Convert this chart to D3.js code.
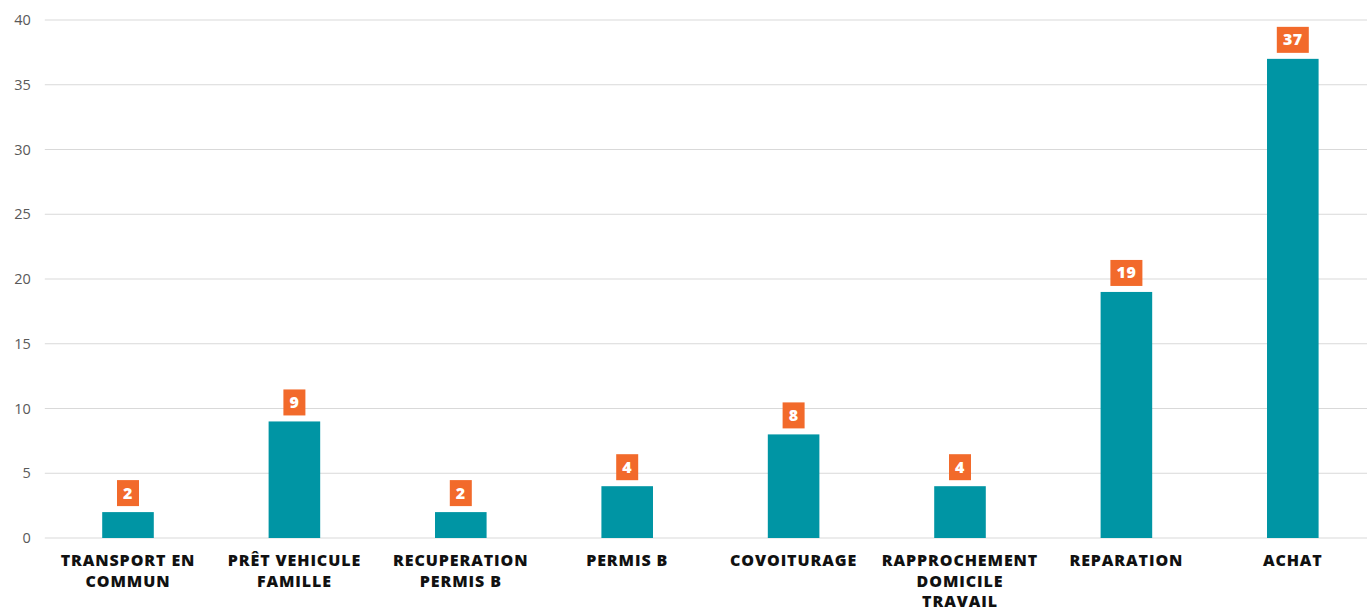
<!DOCTYPE html>
<html><head><meta charset="utf-8">
<script src="https://cdn.jsdelivr.net/npm/d3@7"></script>
<style>body{margin:0;background:#fff;overflow:hidden}</style>
</head><body>
<svg id="c" width="1367" height="608"></svg>
<script>
const categories = [["TRANSPORT EN","COMMUN"],["PRÊT VEHICULE","FAMILLE"],["RECUPERATION","PERMIS B"],["PERMIS B"],["COVOITURAGE"],["RAPPROCHEMENT","DOMICILE","TRAVAIL"],["REPARATION"],["ACHAT"]];
const values = [2,9,2,4,8,4,19,37];
const yTicks = [0,5,10,15,20,25,30,35,40];

(function(){
const svg = d3.select("#c");
const mLeft = 44.8, mRight = 1376, mTop = 20, mBottom = 538;
const keys = categories.map((d,i)=>i);
const x = d3.scaleBand().domain(keys).range([mLeft,mRight]).paddingInner(0.69).paddingOuter(0.345);
const y = d3.scaleLinear().domain([0,40]).range([mBottom,mTop]);

svg.append("g").selectAll("line").data(yTicks).join("line")
  .attr("x1",mLeft).attr("x2",1367)
  .attr("y1",d=>y(d)).attr("y2",d=>y(d))
  .attr("stroke","#d9d9d9").attr("stroke-width",1);

const ya = svg.append("g").attr("transform",`translate(${mLeft-14},0)`)
  .call(d3.axisLeft(y).tickValues(yTicks).tickSize(0).tickPadding(0));
ya.select(".domain").remove();
ya.selectAll("text").attr("font-family","'Open Sans', sans-serif").attr("font-size",14.5).attr("fill","#595959");

svg.append("g").selectAll("rect").data(values).join("rect")
  .attr("x",(d,i)=>x(i)).attr("width",x.bandwidth())
  .attr("y",d=>y(d)).attr("height",d=>mBottom-y(d))
  .attr("fill","#0095A4");

const lg = svg.append("g").selectAll("g").data(values).join("g")
  .attr("transform",(d,i)=>`translate(${x(i)+x.bandwidth()/2},${y(d)-6})`);
lg.append("rect")
  .attr("x",d=>String(d).length>1?-16:-11)
  .attr("width",d=>String(d).length>1?32:22)
  .attr("y",-26).attr("height",26)
  .attr("fill","#F26A2B");
lg.append("text").text(d=>d)
  .attr("text-anchor","middle").attr("y",-7.5)
  .attr("font-family","'Open Sans', sans-serif").attr("font-weight",800)
  .attr("font-size",16).attr("letter-spacing",0.5).attr("fill","#fff");

const xl = svg.append("g").selectAll("text").data(categories).join("text")
  .attr("text-anchor","middle")
  .attr("x",(d,i)=>x(i)+x.bandwidth()/2)
  .attr("y",566)
  .attr("font-family","'Open Sans', sans-serif").attr("font-weight",800)
  .attr("font-size",16).attr("letter-spacing",0.9).attr("fill","#111");
xl.selectAll("tspan").data(d=>d).join("tspan")
  .attr("x",function(){return this.parentNode.getAttribute("x");})
  .attr("dy",(d,i)=>i===0?0:20.5)
  .text(d=>d);
})();
</script>
</body></html>
